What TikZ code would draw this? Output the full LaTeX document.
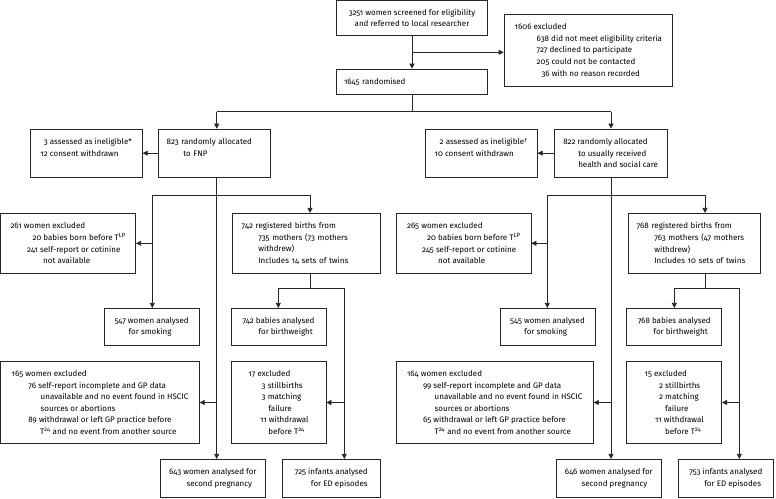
\documentclass[tikz,border=0pt]{standalone}
\usepackage{fontspec}
\setmainfont[Numbers=OldStyle]{Fira Sans}
\usetikzlibrary{arrows.meta}

\begin{document}
\begin{tikzpicture}[x=1pt, y=-1pt, font=\fontsize{8}{11.6}\selectfont,
    box/.style={draw=black!85, line width=0.7pt, align=left, inner sep=0pt},
    line/.style={draw=black!85, line width=0.7pt},
    arr/.style={line, -{Triangle[length=5pt,width=5pt]}}]
    \useasboundingbox (0,0) rectangle (776,498);

    % screening and randomisation
    \node[box, align=center, minimum width=150.6pt, minimum height=34.3pt] (scr) at (412,17.85)
        {3251 women screened for eligibility\\and referred to local researcher};
    \node[box, minimum width=168.7pt, minimum height=72pt] (excl) at (588.35,50.3)
        {1606 excluded\\
         \hspace*{22pt}638 did not meet eligibility criteria\\
         \hspace*{22pt}727 declined to participate\\
         \hspace*{22pt}205 could not be contacted\\
         \hspace*{22pt}\phantom{0}36 with no reason recorded};
    \node[box, text width=136pt, minimum width=150.6pt, minimum height=25.3pt] (rand) at (412,81.65)
        {1645 randomised};

    % allocation
    \node[box, minimum width=112.3pt, minimum height=48.3pt] (inelA) at (86.15,153.15)
        {\phantom{1}3 assessed as ineligible*\\12 consent withdrawn\\~};
    \node[box, text width=95.6pt, minimum width=112.4pt, minimum height=48.3pt] (fnp) at (214.5,153.15)
        {823 randomly allocated\\\hspace*{16.6pt}to FNP\\~};
    \node[box, minimum width=112pt, minimum height=48.3pt] (inelB) at (481.3,153.15)
        {\hspace*{5pt}2 assessed as ineligible\textsuperscript{\textdagger}\\10 consent withdrawn\\~};
    \node[box, minimum width=113.3pt, minimum height=48.3pt] (usc) at (610.65,153.15)
        {822 randomly allocated\\\hspace*{15pt}to usually received\\\hspace*{15pt}health and social care};

    % births and smoking exclusions
    \node[box, minimum width=135pt, minimum height=60pt] (exsmA) at (68.2,243.3)
        {261 women excluded\\
         \hspace*{22pt}20 babies born before T\textsuperscript{LP}\\
         \hspace*{16.7pt}241 self-report or cotinine\\
         \hspace*{32.7pt}not available};
    \node[box, text width=129.3pt, minimum width=147.3pt, minimum height=60pt] (regA) at (306.35,243.3)
        {742 registered births from\\
         \hspace*{16.6pt}735 mothers (73 mothers\\
         \hspace*{16.6pt}withdrew)\\
         \hspace*{16.6pt}Includes 14 sets of twins};
    \node[box, minimum width=134.3pt, minimum height=60pt] (exsmB) at (463.85,243.3)
        {265 women excluded\\
         \hspace*{20pt}20 babies born before T\textsuperscript{LP}\\
         \hspace*{15pt}245 self-report or cotinine\\
         \hspace*{31pt}not available};
    \node[box, text width=114.9pt, minimum width=131.7pt, minimum height=60pt] (regB) at (694.15,243.3)
        {768 registered births from\\
         \hspace*{17.6pt}763 mothers (47 mothers\\
         \hspace*{17.6pt}withdrew)\\
         \hspace*{17.6pt}Includes 10 sets of twins};

    % smoking and birthweight
    \node[box, minimum width=95.3pt, minimum height=36.7pt] (smA) at (151.65,326.65)
        {547 women analysed\\\hspace*{14pt}for smoking};
    \node[box, minimum width=95pt, minimum height=36.7pt] (bwA) at (278.5,326.65)
        {742 babies analysed\\\hspace*{16pt}for birthweight};
    \node[box, minimum width=95pt, minimum height=36.7pt] (smB) at (547.5,326.65)
        {545 women analysed\\\hspace*{14pt}for smoking};
    \node[box, minimum width=95pt, minimum height=36.7pt] (bwB) at (674.2,326.65)
        {768 babies analysed\\\hspace*{15.7pt}for birthweight};

    % later exclusions
    \node[box, minimum width=198.6pt, minimum height=81.6pt] (exprA) at (100,402.5)
        {165 women excluded\\
         \hspace*{16.7pt}76 self-report incomplete and GP data\\
         \hspace*{29pt}unavailable and no event found in HSCIC\\
         \hspace*{29pt}sources or abortions\\
         \hspace*{16.7pt}89 withdrawal or left GP practice before\\
         \hspace*{28.4pt}T\textsuperscript{24} and no event from another source};
    \node[box, minimum width=95pt, minimum height=81.6pt] (exedA) at (278.5,402.5)
        {17 excluded\\
         \hspace*{13.3pt}3 stillbirths\\
         \hspace*{13.3pt}3 matching\\
         \hspace*{20pt}failure\\
         \hspace*{11.6pt}11 withdrawal\\
         \hspace*{20pt}before T\textsuperscript{24}};
    \node[box, minimum width=197.3pt, minimum height=81.6pt] (exprB) at (494.65,402.5)
        {164 women excluded\\
         \hspace*{16pt}99 self-report incomplete and GP data\\
         \hspace*{27.7pt}unavailable and no event found in HSCIC\\
         \hspace*{27.7pt}sources or abortions\\
         \hspace*{16pt}65 withdrawal or left GP practice before\\
         \hspace*{27.7pt}T\textsuperscript{24} and no event from another source};
    \node[box, minimum width=95pt, minimum height=81.6pt] (exedB) at (674.2,402.5)
        {15 excluded\\
         \hspace*{14.4pt}2 stillbirths\\
         \hspace*{14.4pt}2 matching\\
         \hspace*{20.4pt}failure\\
         \hspace*{10.4pt}11 withdrawal\\
         \hspace*{20.4pt}before T\textsuperscript{24}};

    % pregnancy and ED outcomes
    \node[box, minimum width=105.7pt, minimum height=38pt] (prA) at (212.85,478.3)
        {643 women analysed for\\\hspace*{17.4pt}second pregnancy};
    \node[box, minimum width=97.3pt, minimum height=38pt] (edA) at (331.35,478.3)
        {725 infants analysed\\\hspace*{16pt}for ED episodes};
    \node[box, minimum width=104.3pt, minimum height=38pt] (prB) at (608.85,478.3)
        {646 women analysed for\\\hspace*{16.7pt}second pregnancy};
    \node[box, minimum width=95pt, minimum height=38pt] (edB) at (725.8,478.3)
        {753 infants analysed\\\hspace*{15pt}for ED episodes};

    % junctions
    \coordinate (cut) at (412,52.3);
    \coordinate (forkL) at (216.7,111.7);
    \coordinate (forkR) at (611,111.7);
    \coordinate (sL) at (152.3,195);
    \coordinate (rL) at (310,195);
    \coordinate (sR) at (547.3,195);
    \coordinate (rR) at (705,195);
    \coordinate (bL) at (278.3,288.3);
    \coordinate (eL) at (344.3,288.3);
    \coordinate (bR) at (674.3,288.3);
    \coordinate (eR) at (739.3,288.3);

    % connectors
    \draw[arr] (scr) -- (rand);
    \draw[arr] (cut) -- (cut -| excl.west);
    \draw[line] (rand) -- (rand |- forkL);
    \draw[line] (forkL) -- (forkR);
    \draw[arr] (forkL) -- (forkL |- fnp.north);
    \draw[arr] (forkR) -- (forkR |- usc.north);
    \draw[arr] (fnp.west) -- (inelA.east);
    \draw[arr] (usc.west) -- (inelB.east);

    % FNP arm
    \draw[arr] (forkL |- fnp.south) -- (forkL |- prA.north);
    \draw[line] (sL) -- (rL);
    \draw[arr] (sL) -- (sL |- smA.north);
    \draw[arr] (rL) -- (rL |- regA.north);
    \draw[arr] (sL |- exsmA.east) -- (exsmA.east);
    \draw[arr] (forkL |- exprA.east) -- (exprA.east);
    \draw[line] (rL |- regA.south) -- (rL |- bL);
    \draw[line] (bL) -- (eL);
    \draw[arr] (bL) -- (bL |- bwA.north);
    \draw[arr] (eL) -- (eL |- edA.north);
    \draw[arr] (eL |- exedA.east) -- (exedA.east);

    % usual care arm
    \draw[arr] (forkR |- usc.south) -- (forkR |- prB.north);
    \draw[line] (sR) -- (rR);
    \draw[arr] (sR) -- (sR |- smB.north);
    \draw[arr] (rR) -- (rR |- regB.north);
    \draw[arr] (sR |- exsmB.east) -- (exsmB.east);
    \draw[arr] (forkR |- exprB.east) -- (exprB.east);
    \draw[line] (rR |- regB.south) -- (rR |- bR);
    \draw[line] (bR) -- (eR);
    \draw[arr] (bR) -- (bR |- bwB.north);
    \draw[arr] (eR) -- (eR |- edB.north);
    \draw[arr] (eR |- exedB.east) -- (exedB.east);
\end{tikzpicture}
\end{document}
